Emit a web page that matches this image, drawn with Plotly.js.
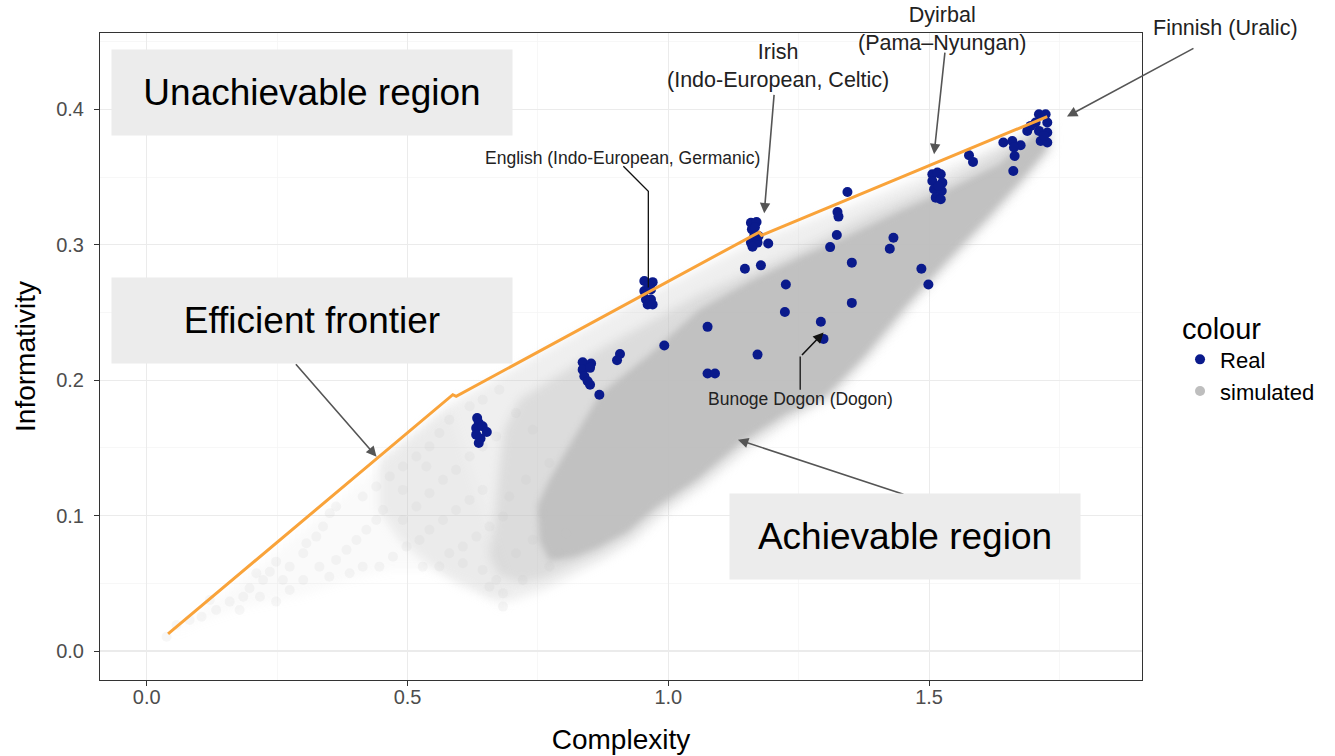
<!DOCTYPE html>
<html>
<head>
<meta charset="utf-8">
<script src="https://cdn.plot.ly/plotly-3.0.1.min.js"></script>
<style>
  html, body { margin: 0; padding: 0; background: #ffffff; }
  #chart { width: 1335px; height: 756px; }
</style>
</head>
<body>
<div id="chart"></div>
<script>
// ---- Observed languages (complexity, informativity) ----
const realX = [
  0.6335, 0.6366, 0.6316, 0.6440, 0.6520, 0.6316, 0.6366, 0.6400,
  0.8358, 0.8520, 0.8358, 0.8500, 0.8390, 0.8454, 0.8500, 0.8678,
  0.9074, 0.9017, 0.9923,
  0.9540, 0.9700, 0.9540, 0.9668, 0.9572, 0.9668, 0.9604, 0.9700, 0.9620,
  1.0753, 1.0753, 1.0895, 1.1711,
  1.1469, 1.1776, 1.1916,
  1.1584, 1.1692, 1.1603, 1.1648, 1.1584, 1.1711, 1.1615, 1.1730, 1.1660,
  1.2254, 1.2235,
  1.3435, 1.3244, 1.3263, 1.3231, 1.3103, 1.3519, 1.3519, 1.2925, 1.2976,
  1.4317, 1.4247, 1.4853, 1.4987,
  1.5063, 1.5224, 1.5063, 1.5255, 1.5096, 1.5243, 1.5128, 1.5224, 1.5160, 1.5180,
  1.5766, 1.5843,
  1.6424, 1.6596, 1.6756, 1.6628, 1.6641, 1.6615,
  1.7107, 1.7235, 1.7043, 1.7267, 1.7107, 1.7267, 1.7140, 1.7267, 1.7203, 1.6883, 1.6948
];
const realY = [
  0.1720, 0.1684, 0.1647, 0.1660, 0.1618, 0.1598, 0.1536, 0.1570,
  0.2132, 0.2123, 0.2078, 0.2091, 0.2029, 0.1992, 0.1967, 0.1893,
  0.2194, 0.2147, 0.2256,
  0.2732, 0.2724, 0.2658, 0.2670, 0.2596, 0.2596, 0.2559, 0.2559, 0.2700,
  0.2394, 0.2049, 0.2049, 0.2189,
  0.2823, 0.2848, 0.3010,
  0.3163, 0.3168, 0.3114, 0.3064, 0.3016, 0.3016, 0.2986, 0.3064, 0.3130,
  0.2707, 0.2503,
  0.3390, 0.3242, 0.3208, 0.3072, 0.2983, 0.2868, 0.2571, 0.2431, 0.2305,
  0.3052, 0.2971, 0.2823, 0.2707,
  0.3521, 0.3521, 0.3471, 0.3459, 0.3410, 0.3397, 0.3348, 0.3336, 0.3533, 0.3434,
  0.3661, 0.3612,
  0.3755, 0.3767, 0.3735, 0.3718, 0.3656, 0.3545,
  0.3964, 0.3964, 0.3903, 0.3903, 0.3841, 0.3829, 0.3767, 0.3755, 0.3804, 0.3841, 0.3878
];

// ---- Simulated systems: scattered points on the sparse fringe ----
const simX = [
  0.038, 0.057, 0.082, 0.105, 0.121, 0.133, 0.159, 0.178, 0.185, 0.197,
  0.210, 0.217, 0.223, 0.236, 0.248, 0.248, 0.261, 0.274, 0.274, 0.300,
  0.300, 0.306, 0.325, 0.331, 0.338, 0.350, 0.351, 0.363, 0.363, 0.383,
  0.389, 0.402, 0.414, 0.414, 0.421, 0.440, 0.440, 0.446, 0.453, 0.466,
  0.472, 0.491, 0.491, 0.491, 0.498, 0.517, 0.517, 0.523, 0.529, 0.536,
  0.542, 0.542, 0.542, 0.561, 0.561, 0.568, 0.568, 0.580, 0.580, 0.593,
  0.593, 0.606, 0.606, 0.619, 0.619, 0.619, 0.632, 0.644, 0.644, 0.644,
  0.644, 0.657, 0.657, 0.670, 0.670, 0.676, 0.683, 0.683, 0.683, 0.695,
  0.708, 0.708, 0.721, 0.727, 0.740, 0.740, 0.759, 0.772, 0.772, 0.791, 0.804
];
const simY = [
  0.0106, 0.0192, 0.0229, 0.0254, 0.0377, 0.0303, 0.0365, 0.0303, 0.0401, 0.0463,
  0.0574, 0.0401, 0.0525, 0.0586, 0.0660, 0.0365, 0.0525, 0.0451, 0.0623, 0.0525,
  0.0722, 0.0796, 0.0845, 0.0623, 0.0919, 0.0549, 0.1018, 0.1067, 0.0673, 0.0747,
  0.0574, 0.0820, 0.0623, 0.1141, 0.0895, 0.0968, 0.1215, 0.0623, 0.1042, 0.1289,
  0.0697, 0.1363, 0.0968, 0.1190, 0.0771, 0.1437, 0.1067, 0.0820, 0.0623, 0.1363,
  0.1511, 0.0895, 0.1166, 0.1610, 0.0624, 0.0968, 0.1264, 0.1708, 0.0722, 0.1042,
  0.1338, 0.0771, 0.0648, 0.1116, 0.1437, 0.1807, 0.0845, 0.1190, 0.1511, 0.0599,
  0.1856, 0.0919, 0.0475, 0.1585, 0.0525, 0.1930, 0.0993, 0.0426, 0.0328, 0.1141,
  0.0722, 0.1758, 0.0525, 0.1265, 0.0821, 0.1634, 0.1018, 0.0624, 0.1388, 0.0722, 0.0870
];

// ---- Simulated systems: outlines of the overlapping point cloud ----
const fanX = [0.045, 0.200, 0.350, 0.500, 0.580, 0.700, 0.683, 0.620, 0.536, 0.466, 0.389, 0.300, 0.178, 0.100];
const fanY = [0.011, 0.058, 0.106, 0.154, 0.180, 0.040, 0.030, 0.050, 0.060, 0.060, 0.053, 0.041, 0.032, 0.022];

const haloX = [0.4464, 0.5862, 0.7529, 0.9444, 1.1743, 1.3467, 1.5000, 1.6533, 1.7107, 1.7395,
  1.7375, 1.6916, 1.6245, 1.5479, 1.4732, 1.3908, 1.3180, 1.2414, 1.1552, 1.0690,
  0.9923, 0.9349, 0.8774, 0.8199, 0.7625, 0.7050, 0.6571, 0.5996, 0.5421, 0.4847, 0.4464];
const haloY = [0.1413, 0.1834, 0.2189, 0.2596, 0.3040, 0.3284, 0.3521, 0.3765, 0.3898, 0.3876,
  0.3691, 0.3484, 0.3188, 0.2877, 0.2559, 0.2167, 0.1871, 0.1709, 0.1487, 0.1213,
  0.1006, 0.0806, 0.0673, 0.0562, 0.0451, 0.0377, 0.0392, 0.0488, 0.0636, 0.0821, 0.1043];

const midX = [0.7146, 0.8678, 1.0594, 1.2318, 1.3851, 1.5383, 1.6724, 1.7203, 1.7299, 1.7261,
  1.6820, 1.6149, 1.5383, 1.4636, 1.3812, 1.3084, 1.2318, 1.1456, 1.0594, 0.9828,
  0.9253, 0.8678, 0.8142, 0.7625, 0.7146, 0.6762, 0.6571, 0.6667, 0.6762, 0.6858];
const midY = [0.1857, 0.2226, 0.2633, 0.2929, 0.3225, 0.3484, 0.3780, 0.3876, 0.3780, 0.3691,
  0.3484, 0.3188, 0.2877, 0.2559, 0.2175, 0.1879, 0.1731, 0.1516, 0.1243, 0.1036,
  0.0843, 0.0717, 0.0629, 0.0540, 0.0503, 0.0562, 0.0710, 0.0969, 0.1339, 0.1635];

const coreX = [0.7720, 0.8678, 0.9636, 1.0594, 1.1552, 1.2510, 1.3467, 1.4425, 1.5383, 1.6341,
  1.6916, 1.7146, 1.7261, 1.7241, 1.6762, 1.6073, 1.5307, 1.4559, 1.3736, 1.3008,
  1.2241, 1.1379, 1.0536, 0.9770, 0.9215, 0.8640, 0.8199, 0.7720, 0.7529, 0.7490];
const coreY = [0.1264, 0.1893, 0.2189, 0.2522, 0.2729, 0.2907, 0.3070, 0.3247, 0.3410, 0.3595,
  0.3780, 0.3876, 0.3817, 0.3706, 0.3484, 0.3188, 0.2877, 0.2559, 0.2175, 0.1886,
  0.1753, 0.1538, 0.1265, 0.1065, 0.0880, 0.0762, 0.0695, 0.0666, 0.0814, 0.1073];

// ---- Efficient frontier ----
const frontierX = [0.0408, 0.5868, 0.5933, 1.1743, 1.1791, 1.7267];
const frontierY = [0.0126, 0.1893, 0.1881, 0.3094, 0.3070, 0.3947];

const FONT = 'Liberation Sans, Arial, Helvetica, sans-serif';
const GREY = '#bebebe';
const NAVY = '#0a1a8c';
const ORANGE = '#f9a33a';

function cloud(x, y, alpha) {
  return {
    type: 'scatter', mode: 'none', x: x, y: y,
    fill: 'toself', fillcolor: 'rgba(190,190,190,' + alpha + ')',
    hoverinfo: 'skip', showlegend: false
  };
}

const traces = [
  cloud(fanX, fanY, 0.08),
  cloud(haloX, haloY, 0.25),
  cloud(midX, midY, 0.38),
  cloud(coreX, coreY, 0.9),
  {
    type: 'scatter', mode: 'markers', x: simX, y: simY, name: 'simulated',
    marker: { color: GREY, size: 10, opacity: 0.13 },
    showlegend: false, hoverinfo: 'skip'
  },
  {
    type: 'scatter', mode: 'markers', x: realX, y: realY, name: 'Real',
    marker: { color: NAVY, size: 10 }, legendrank: 1
  },
  {
    type: 'scatter', mode: 'lines', x: frontierX, y: frontierY,
    line: { color: ORANGE, width: 3 }, showlegend: false, hoverinfo: 'skip'
  },
  {
    type: 'scatter', mode: 'markers', x: [null], y: [null], name: 'simulated',
    marker: { color: GREY, size: 10 }, legendrank: 2
  }
];

const axisCommon = {
  showgrid: true, gridcolor: '#ebebeb', gridwidth: 1.1,
  zeroline: false, showline: true, mirror: true,
  linecolor: '#333333', linewidth: 1,
  ticks: 'outside', ticklen: 5, tickwidth: 1, tickcolor: '#333333',
  tickfont: { family: FONT, size: 20, color: '#4d4d4d' },
  tickformat: '.1f'
};

const labelFont = { family: FONT, size: 21.5, color: '#222222' };
const smallFont = { family: FONT, size: 17.5, color: '#222222' };
const boxFont = { family: FONT, size: 37, color: '#000000' };

function box(text, x, y, w) {
  return {
    text: text, xref: 'paper', yref: 'paper', x: x, y: y,
    xanchor: 'center', yanchor: 'middle', showarrow: false,
    width: w, height: 85, bgcolor: '#ececec', borderpad: 0,
    font: boxFont
  };
}
function label(text, x, y, font) {
  return {
    text: text, xref: 'paper', yref: 'paper', x: x, y: y,
    xanchor: 'center', yanchor: 'middle', showarrow: false, font: font
  };
}
function pointer(x, y, ax, ay, color) {
  return {
    text: '', xref: 'x', yref: 'y', x: x, y: y, ax: ax, ay: ay,
    showarrow: true, arrowhead: 2, arrowsize: 1.3, arrowwidth: 1.6,
    arrowcolor: color, standoff: 0
  };
}

const layout = {
  width: 1335, height: 756, autosize: false,
  margin: { l: 100, r: 193, t: 33, b: 76 },
  paper_bgcolor: '#ffffff', plot_bgcolor: '#ffffff',
  font: { family: FONT },
  xaxis: Object.assign({}, axisCommon, {
    range: [-0.0897, 1.9083], tick0: 0, dtick: 0.5,
    ticklabelstandoff: -6,
    minor: { dtick: 0.25, showgrid: true, gridcolor: '#f4f4f4', gridwidth: 0.7 },
    title: { text: 'Complexity', font: { family: FONT, size: 28, color: '#000000' }, standoff: 22 }
  }),
  yaxis: Object.assign({}, axisCommon, {
    range: [-0.0214, 0.4564], tick0: 0, dtick: 0.1,
    ticklabelstandoff: 6,
    minor: { dtick: 0.05, showgrid: true, gridcolor: '#f4f4f4', gridwidth: 0.7 },
    title: { text: 'Informativity', font: { family: FONT, size: 28, color: '#000000' }, standoff: 12 }
  }),
  legend: {
    x: 1.0365, y: 0.586, xanchor: 'left', yanchor: 'top',
    title: { text: 'colour', font: { family: FONT, size: 29, color: '#000000' } },
    font: { family: FONT, size: 22, color: '#000000' },
    bgcolor: 'rgba(0,0,0,0)', tracegroupgap: 0
  },
  shapes: [
    // leader for the English label
    { type: 'path', xref: 'x', yref: 'y', path: 'M 0.9138,0.3580 L 0.9617,0.3395 L 0.9617,0.2685',
      line: { color: '#111111', width: 1.3 } },
    // leader for the Bunoge Dogon label
    { type: 'path', xref: 'x', yref: 'y', path: 'M 1.2529,0.1930 L 1.2529,0.2175',
      line: { color: '#111111', width: 1.3 } }
  ],
  annotations: [
    pointer(0.4406, 0.1435, -82, -94, '#555555'),
    pointer(1.1335, 0.1561, 167, 55, '#555555'),
    pointer(1.7644, 0.3947, 128, -69, '#555555'),
    pointer(1.5096, 0.3669, 11, -103, '#555555'),
    pointer(1.1839, 0.3232, 10, -120, '#555555'),
    pointer(1.2977, 0.2352, -23, 24, '#111111'),
    box('Unachievable region', 0.2035, 0.9080, 400),
    box('Efficient frontier', 0.2035, 0.5553, 400),
    box('Achievable region', 0.7726, 0.2212, 350),
    label('Finnish (Uralic)', 1.0806, 1.0077, labelFont),
    label('Dyirbal<br>(Pama–Nyungan)', 0.809, 1.0062, labelFont),
    label('Irish<br>(Indo-European, Celtic)', 0.6507, 0.9497, labelFont),
    label('English (Indo-European, Germanic)', 0.5014, 0.8066, smallFont),
    label('Bunoge Dogon (Dogon)', 0.6718, 0.4339, smallFont)
  ]
};

Plotly.newPlot('chart', traces, layout, { staticPlot: true, displayModeBar: false }).then(function () {
  // soften the edges of the overlapping-point cloud: outer layers more than the core
  const fills = document.querySelectorAll('.scatterlayer .js-fill');
  fills.forEach(function (p, i) {
    p.style.filter = i < 3 ? 'blur(5px)' : 'blur(3px)';
  });
});
</script>
</body>
</html>
